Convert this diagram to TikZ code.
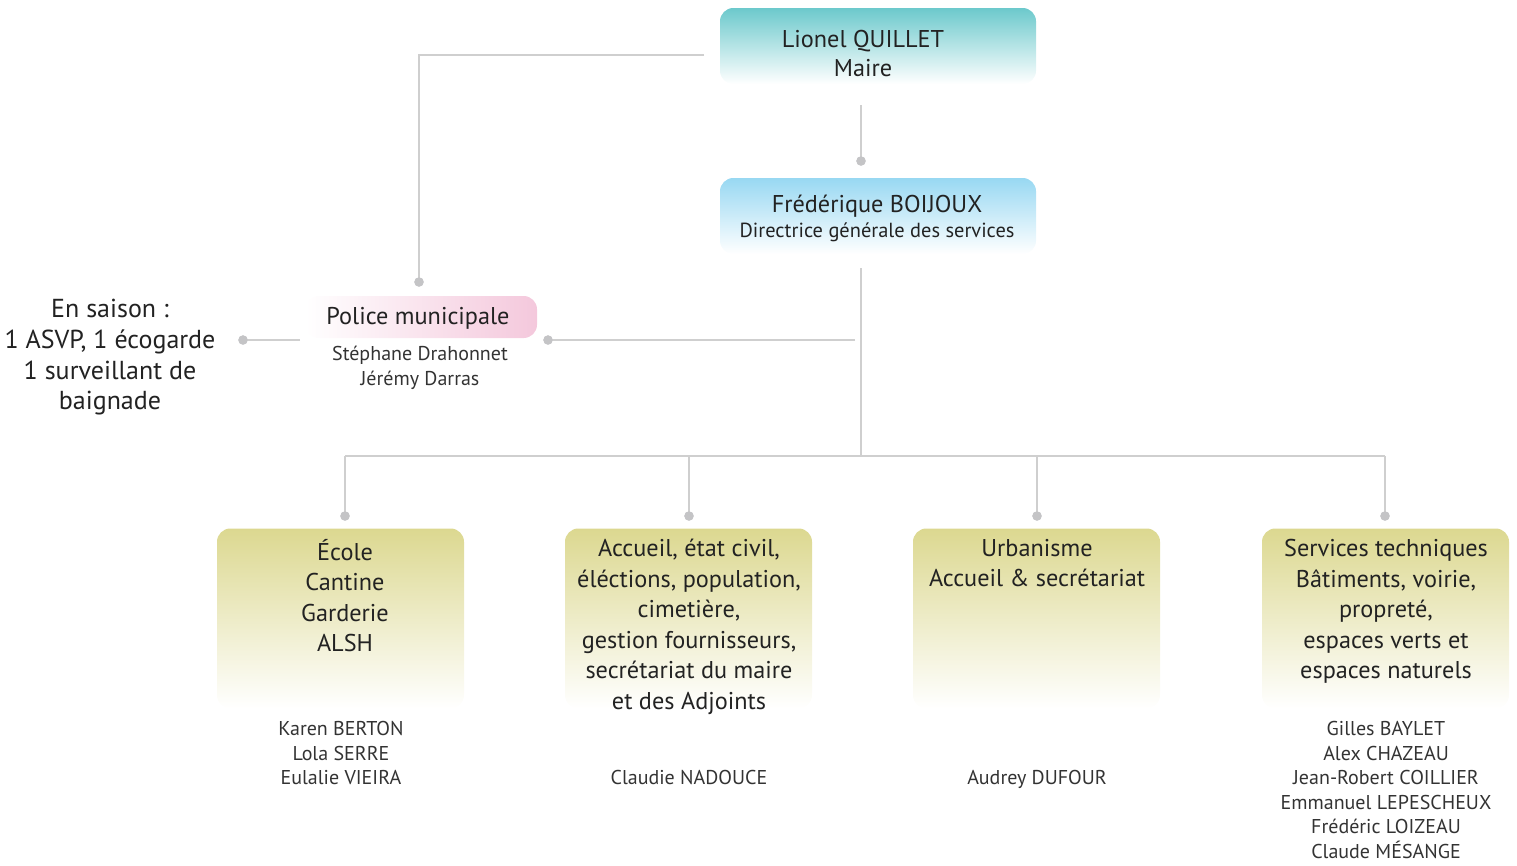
\documentclass[tikz,border=0pt]{standalone}
\usepackage{fontspec}
\setmainfont{PT Sans}
\usetikzlibrary{positioning}
\definecolor{teal1}{HTML}{6CC9CC}
\definecolor{blue1}{HTML}{98D8F2}
\definecolor{olive1}{HTML}{DCD890}
\definecolor{pink1}{HTML}{F4C8DC}
\definecolor{linec}{HTML}{CFCFCF}
\definecolor{dotc}{HTML}{C4C4C6}
\definecolor{txt}{HTML}{222222}
\definecolor{txtl}{HTML}{333333}
\tikzset{
  box/.style={inner sep=0pt, rounded corners=10pt, draw=none},
  boxtxt/.style={anchor=north, align=center, inner sep=0pt, text=txt,
     font=\fontsize{18.2pt}{22.9pt}\selectfont},
  names/.style={anchor=north, align=center, inner sep=0pt, text=txtl,
     font=\fontsize{15pt}{18.4pt}\selectfont},
  conn/.style={draw=linec, line width=1.9pt},
  dot/.style={circle, fill=dotc, inner sep=0pt, minimum size=7pt},
}
\begin{document}
\begin{tikzpicture}[x=0.75pt,y=-0.75pt]
\useasboundingbox (0,0) rectangle (1517,865);
% boxes
\node[box, shade, top color=teal1, bottom color=white, minimum width=316*0.75pt, minimum height=76*0.75pt] (maire) at (878,46) {};
\node[box, shade, top color=blue1, bottom color=white, minimum width=316*0.75pt, minimum height=76*0.75pt] (dgs) at (878,216) {};
\node[box, shade, left color=white, right color=pink1, minimum width=232*0.75pt, minimum height=42*0.75pt] (police) at (421,317) {};
\foreach \n/\cx in {ecole/340.5, accueil/688.5, urba/1036.5, tech/1385.5}{
  \node[box, shade, top color=olive1, bottom color=white, minimum width=247*0.75pt, minimum height=180*0.75pt] (\n) at (\cx,618.5) {};
}
% texts
\node[boxtxt, anchor=north] (tmaire) at (863,30) {Lionel QUILLET\\[-1pt]Maire};
\node[boxtxt, anchor=north] (tdgs) at (877,195) {Frédérique BOIJOUX\\[-4pt]{\fontsize{15.3pt}{18pt}\selectfont Directrice générale des services}};
\node[boxtxt, anchor=north] (tpolice) at (418,307) {Police municipale};
\node[names] (npolice) at (420,346) {Stéphane Drahonnet\\Jérémy Darras};
\node[boxtxt, font=\fontsize{19.5pt}{23pt}\selectfont] (saison) at (110,299) {En saison :\\1 ASVP, 1 écogarde\\1 surveillant de\\baignade};
\node[boxtxt] (tecole) at (345,539) {École\\Cantine\\Garderie\\ALSH};
\node[boxtxt] (taccueil) at (689,539) {Accueil, état civil,\\éléctions, population,\\cimetière,\\gestion fournisseurs,\\secrétariat du maire\\et des Adjoints};
\node[boxtxt] (turba) at (1037,539) {Urbanisme\\Accueil \& secrétariat};
\node[boxtxt] (ttech) at (1386,539) {Services techniques\\Bâtiments, voirie,\\propreté,\\espaces verts et\\espaces naturels};
\node[names] (necole) at (341,721) {Karen BERTON\\Lola SERRE\\Eulalie VIEIRA};
\node[names] (naccueil) at (689,770) {Claudie NADOUCE};
\node[names] (nurba) at (1037,770) {Audrey DUFOUR};
\node[names] (ntech) at (1386,721) {Gilles BAYLET\\Alex CHAZEAU\\Jean-Robert COILLIER\\Emmanuel LEPESCHEUX\\Frédéric LOIZEAU\\Claude MÉSANGE};
% coordinates
\coordinate (m1) at (861,105);
\node[dot] (d1) at (861,161) {};
\coordinate (m2) at (704,55);
\coordinate (m3) at (419,55);
\node[dot] (d2) at (419,282) {};
\coordinate (g1) at (861,268);
\coordinate (g2) at (861,456);
\coordinate (p1) at (855,340);
\node[dot] (d3) at (548,340) {};
\coordinate (s1) at (300,340);
\node[dot] (d4) at (243,340) {};
\coordinate (b1) at (345,456);
\coordinate (b2) at (689,456);
\coordinate (b3) at (1037,456);
\coordinate (b4) at (1385,456);
\node[dot] (e1) at (345,516) {};
\node[dot] (e2) at (689,516) {};
\node[dot] (e3) at (1037,516) {};
\node[dot] (e4) at (1385,516) {};
% connectors
\draw[conn] (m1) -- (d1.center);
\draw[conn] (m2) -- (m3) -- (d2.center);
\draw[conn] (g1) -- (g2);
\draw[conn] (p1) -- (d3.center);
\draw[conn] (s1) -- (d4.center);
\draw[conn] (b1) -- (b4);
\draw[conn] (b1) -- (e1.center);
\draw[conn] (b2) -- (e2.center);
\draw[conn] (b3) -- (e3.center);
\draw[conn] (b4) -- (e4.center);
\foreach \d in {d1,d2,d3,d4,e1,e2,e3,e4}{\node[dot] at (\d) {};}
\end{tikzpicture}
\end{document}
